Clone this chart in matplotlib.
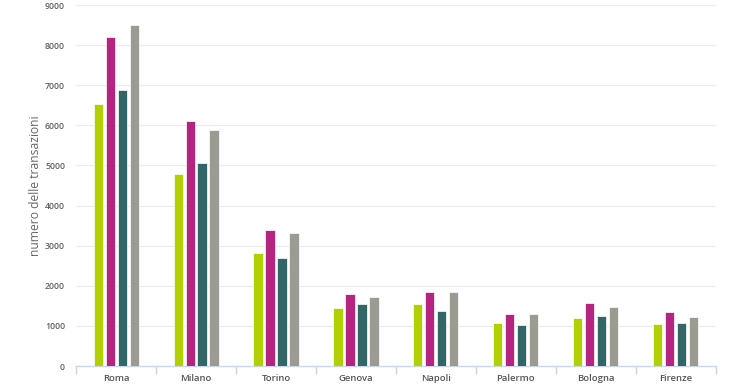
import numpy as np
import matplotlib.pyplot as plt

citta = ['Roma', 'Milano', 'Torino', 'Genova', 'Napoli', 'Palermo', 'Bologna', 'Firenze']

# quattro serie
serie_1 = [6540, 4780, 2830, 1450, 1555, 1065, 1190, 1040]
serie_2 = [8210, 6120, 3385, 1800, 1840, 1300, 1565, 1355]
serie_3 = [6880, 5070, 2695, 1555, 1375, 1025, 1250, 1080]
serie_4 = [8495, 5895, 3325, 1720, 1855, 1300, 1470, 1215]

colori = ['#b2d000', '#b5247f', '#336666', '#9b9b91']

plt.rcParams['font.family'] = ['Open Sans', 'DejaVu Sans']

fig = plt.figure(figsize=(7.4, 3.89), dpi=100)
ax = fig.add_axes([0.103, 0.059, 0.864, 0.928])

x = np.arange(len(citta))
larghezza = 0.115
passo = 0.15
for i, (valori, col) in enumerate(zip([serie_1, serie_2, serie_3, serie_4], colori)):
    ax.bar(x + (i - 1.5) * passo, valori, width=larghezza, color=col,
           edgecolor='white', linewidth=0.5, zorder=3)

ax.set_xlim(-0.5, len(citta) - 0.5)
ax.set_ylim(0, 9000)
ax.set_yticks(np.arange(0, 9001, 1000))
ax.yaxis.grid(True, color='#ececec', linewidth=0.8, zorder=0)
ax.tick_params(axis='y', length=0, pad=8, labelsize=6.3, labelcolor='#606060')

ax.set_xticks(x)
ax.set_xticklabels(citta)
ax.tick_params(axis='x', which='major', length=0, pad=6, labelsize=6.8, labelcolor='#555555')
ax.set_xticks(np.arange(-0.5, len(citta), 1), minor=True)
ax.tick_params(axis='x', which='minor', length=6, color='#ccd6eb', width=1)
for t in ax.get_xticklabels() + ax.get_yticklabels():
    t.set_fontweight(600)

for s in ['top', 'right', 'left']:
    ax.spines[s].set_visible(False)
ax.spines['bottom'].set_color('#ccd6eb')
ax.spines['bottom'].set_linewidth(1)

ax.set_ylabel('numero delle transazioni', fontsize=8.7, color='#666666')
ax.yaxis.set_label_coords(-0.054, 0.5)

fig.savefig('out.png', dpi=100)
